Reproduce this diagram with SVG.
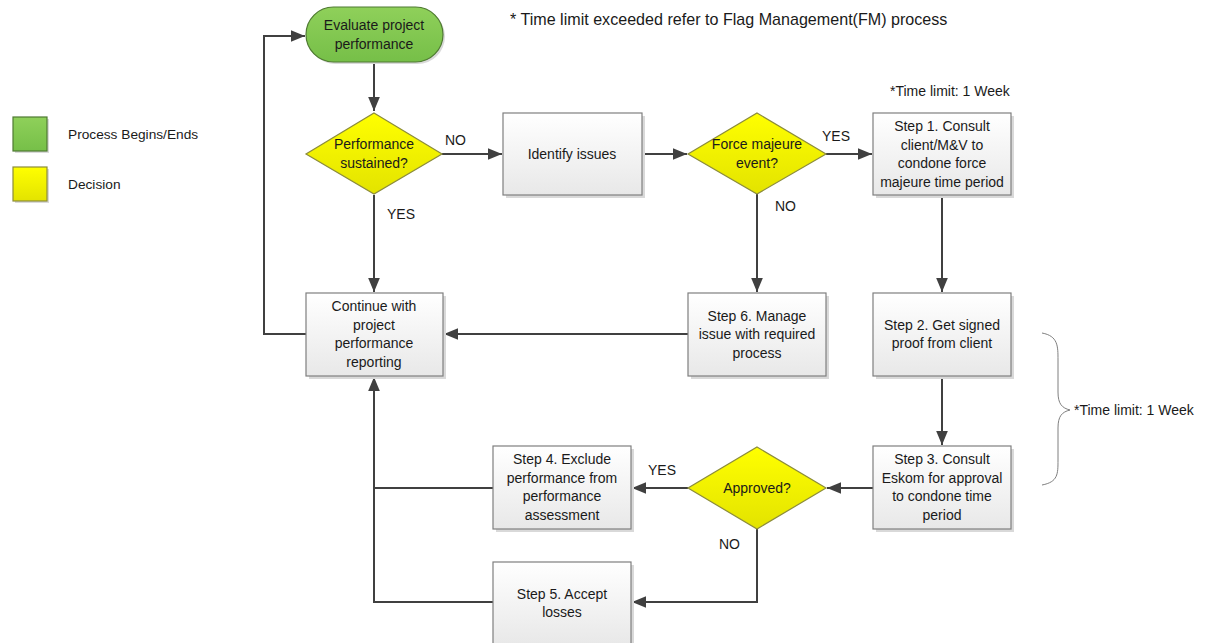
<svg xmlns="http://www.w3.org/2000/svg" width="1206" height="643" viewBox="0 0 1206 643">
  <style>
    text { font-family: "Liberation Sans", Arial, sans-serif; font-size: 14px; fill: #1a1a1a; }
    .c { text-anchor: middle; }
    .leg { font-size: 13.7px; }
    .big { font-size: 16.1px; }
    .box { fill: url(#gBox); stroke: #7f7f7f; stroke-width: 1.2; }
    .shadow { fill: #d9d9d9; }
    .dec { fill: url(#gYel); stroke: #8c8c3a; stroke-width: 1.2; }
    .term { fill: url(#gGrn); stroke: #4f7a32; stroke-width: 1.2; }
    .wire { fill: none; stroke: #404040; stroke-width: 2; }
    .arr { marker-end: url(#ah); }
  </style>
  <defs>
    <linearGradient id="gBox" x1="0" y1="0" x2="0" y2="1">
      <stop offset="0" stop-color="#ffffff"/>
      <stop offset="1" stop-color="#e8e8e8"/>
    </linearGradient>
    <linearGradient id="gYel" x1="0" y1="0" x2="0" y2="1">
      <stop offset="0" stop-color="#ffff00"/>
      <stop offset="1" stop-color="#e3e300"/>
    </linearGradient>
    <linearGradient id="gGrn" x1="0" y1="0" x2="0" y2="1">
      <stop offset="0" stop-color="#8fd05a"/>
      <stop offset="1" stop-color="#76bf48"/>
    </linearGradient>
    <marker id="ah" viewBox="0 0 12 10" refX="12" refY="5" markerWidth="7" markerHeight="6" orient="auto" markerUnits="strokeWidth">
      <path d="M0,0 L12,5 L0,10 Z" fill="#404040"/>
    </marker>
  </defs>

  <!-- legend -->
  <g id="legend">
    <rect x="15" y="119" width="34" height="34" class="shadow"/>
    <rect x="13" y="117" width="34" height="34" class="term"/>
    <text class="leg" x="68" y="139">Process Begins/Ends</text>
    <rect x="15" y="169" width="34" height="34" class="shadow"/>
    <rect x="13" y="167" width="34" height="34" class="dec"/>
    <text class="leg" x="68" y="189">Decision</text>
  </g>

  <!-- notes -->
  <text id="note-top" class="big" x="510" y="25">* Time limit exceeded refer to Flag Management(FM) process</text>
  <text id="note-step1" x="890" y="96">*Time limit: 1 Week</text>
  <g id="brace">
    <path d="M1042,333 C1058,336 1058,346 1058,360 L1058,392 C1058,404 1062,408 1070,410 C1062,412 1058,416 1058,428 L1058,460 C1058,474 1058,482 1042,485" fill="none" stroke="#7f7f7f" stroke-width="1"/>
    <text x="1074" y="415">*Time limit: 1 Week</text>
  </g>

  <!-- connectors -->
  <g id="connectors">
    <path class="wire arr" d="M374,62 L374,111"/>
    <path class="wire arr" d="M442,154 L502,154"/>
    <path class="wire arr" d="M642,154 L687,154"/>
    <path class="wire arr" d="M826,154 L872,154"/>
    <path class="wire arr" d="M757,194 L757,292"/>
    <path class="wire arr" d="M942,195 L942,292"/>
    <path class="wire arr" d="M942,376 L942,445"/>
    <path class="wire arr" d="M873,488 L827,488"/>
    <path class="wire arr" d="M688,488 L632,488"/>
    <path class="wire arr" d="M757,529 L757,602 L632,602"/>
    <path class="wire arr" d="M688,334 L444,334"/>
    <path class="wire arr" d="M374,195 L374,292"/>
    <path class="wire arr" d="M306,334 L264,334 L264,36 L305,36"/>
    <path class="wire" d="M493,488 L374,488"/>
    <path class="wire arr" d="M493,602 L374,602 L374,377"/>
    <text x="445" y="145">NO</text>
    <text x="387" y="219">YES</text>
    <text x="822" y="141">YES</text>
    <text x="775" y="211">NO</text>
    <text x="648" y="475">YES</text>
    <text x="719" y="549">NO</text>
  </g>

  <!-- nodes -->
  <g id="start">
    <rect x="308" y="9" width="137" height="55" rx="27.5" class="shadow"/>
    <rect x="306" y="7" width="137" height="55" rx="27.5" class="term"/>
    <text class="c" x="374" y="30">Evaluate project</text>
    <text class="c" x="374" y="49">performance</text>
  </g>

  <g id="dec-sustained">
    <polygon points="374,113 442,154 374,194 306,154" class="dec"/>
    <text class="c" x="374" y="149">Performance</text>
    <text class="c" x="374" y="168">sustained?</text>
  </g>

  <g id="identify">
    <rect x="506" y="116" width="139" height="82" class="shadow"/>
    <rect x="503" y="113" width="139" height="82" class="box"/>
    <text class="c" x="572" y="159">Identify issues</text>
  </g>

  <g id="dec-force">
    <polygon points="757,113 826,154 757,194 688,154" class="dec"/>
    <text class="c" x="757" y="149">Force majeure</text>
    <text class="c" x="757" y="168">event?</text>
  </g>

  <g id="step1">
    <rect x="876" y="116" width="138" height="82" class="shadow"/>
    <rect x="873" y="113" width="138" height="82" class="box"/>
    <text class="c" x="942" y="131">Step 1. Consult</text>
    <text class="c" x="942" y="150">client/M&amp;V to</text>
    <text class="c" x="942" y="168">condone force</text>
    <text class="c" x="942" y="187">majeure time period</text>
  </g>

  <g id="continue">
    <rect x="309" y="296" width="137" height="83" class="shadow"/>
    <rect x="306" y="293" width="137" height="83" class="box"/>
    <text class="c" x="374" y="311">Continue with</text>
    <text class="c" x="374" y="330">project</text>
    <text class="c" x="374" y="348">performance</text>
    <text class="c" x="374" y="367">reporting</text>
  </g>

  <g id="step6">
    <rect x="691" y="296" width="138" height="83" class="shadow"/>
    <rect x="688" y="293" width="138" height="83" class="box"/>
    <text class="c" x="757" y="321">Step 6. Manage</text>
    <text class="c" x="757" y="339">issue with required</text>
    <text class="c" x="757" y="358">process</text>
  </g>

  <g id="step2">
    <rect x="876" y="296" width="138" height="83" class="shadow"/>
    <rect x="873" y="293" width="138" height="83" class="box"/>
    <text class="c" x="942" y="330">Step 2. Get signed</text>
    <text class="c" x="942" y="348">proof from client</text>
  </g>

  <g id="step3">
    <rect x="876" y="449" width="138" height="83" class="shadow"/>
    <rect x="873" y="446" width="138" height="83" class="box"/>
    <text class="c" x="942" y="464">Step 3. Consult</text>
    <text class="c" x="942" y="483">Eskom for approval</text>
    <text class="c" x="942" y="501">to condone time</text>
    <text class="c" x="942" y="520">period</text>
  </g>

  <g id="dec-approved">
    <polygon points="757,447 826,488 757,529 688,488" class="dec"/>
    <text class="c" x="757" y="493">Approved?</text>
  </g>

  <g id="step4">
    <rect x="496" y="449" width="138" height="83" class="shadow"/>
    <rect x="493" y="446" width="138" height="83" class="box"/>
    <text class="c" x="562" y="464">Step 4. Exclude</text>
    <text class="c" x="562" y="483">performance from</text>
    <text class="c" x="562" y="501">performance</text>
    <text class="c" x="562" y="520">assessment</text>
  </g>

  <g id="step5">
    <rect x="496" y="565" width="138" height="83" class="shadow"/>
    <rect x="493" y="562" width="138" height="83" class="box"/>
    <text class="c" x="562" y="599">Step 5. Accept</text>
    <text class="c" x="562" y="617">losses</text>
  </g>
</svg>
